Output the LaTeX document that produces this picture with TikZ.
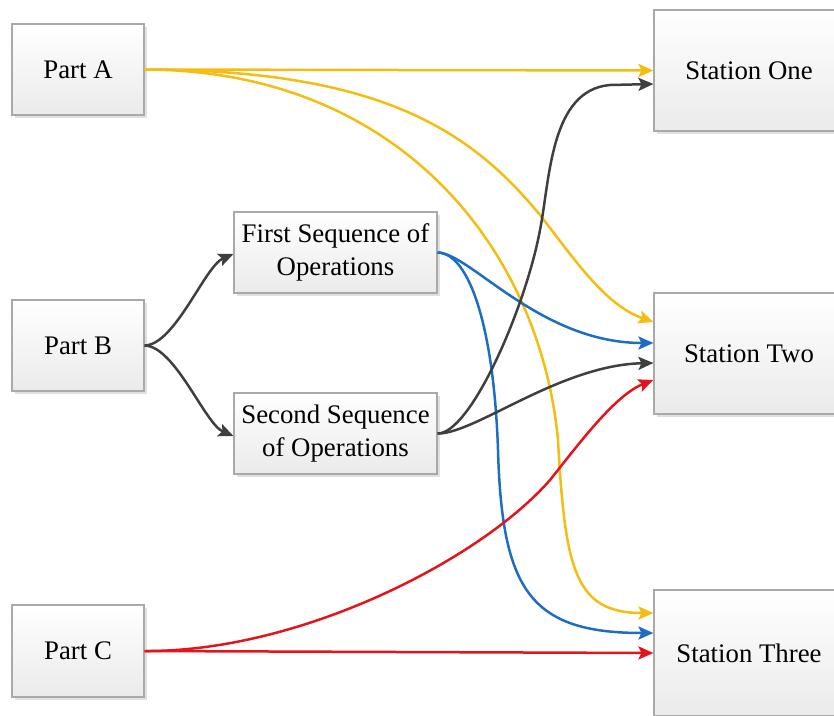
\documentclass[tikz,border=0pt]{standalone}
\usepackage{fontspec}
\setmainfont{Liberation Serif}
\usetikzlibrary{arrows.meta,shadows,calc}
\definecolor{linkgold}{HTML}{F5BC12}
\definecolor{linkblue}{HTML}{1B6EC2}
\definecolor{linkgray}{HTML}{3F3F3F}
\definecolor{linkred}{HTML}{E3141B}
\definecolor{boxedge}{HTML}{A9A9A9}
\begin{document}
\begin{tikzpicture}[x=1pt,y=-1pt,
  box/.style={draw=boxedge, line width=1.1pt, top color=white, bottom color=black!8,
    align=center, inner sep=0pt, font=\fontsize{26.8}{32.5}\selectfont,
    general shadow={fill=black!12, shadow xshift=3pt, shadow yshift=-3pt}},
  link/.style={line width=2.5pt, -{Stealth[length=15pt,width=13pt,inset=3pt]}}]
\useasboundingbox (0,0) rectangle (834,715);
\clip (0,0) rectangle (834,715);

% parts on the left
\node[box, minimum width=132pt, minimum height=91pt] (partA) at (78,69.5) {Part A};
\node[box, minimum width=132pt, minimum height=91pt] (partB) at (78,345.5) {Part B};
\node[box, minimum width=132pt, minimum height=92pt] (partC) at (78,651) {Part C};

% operation sequences in the middle
\node[box, minimum width=203pt, minimum height=81pt] (seqOne) at (335.5,252.5) {First Sequence of\\Operations};
\node[box, minimum width=203pt, minimum height=81pt] (seqTwo) at (335.5,433.5) {Second Sequence\\of Operations};

% stations on the right
\node[box, minimum width=190pt, minimum height=121pt] (stOne) at (749,70.5) {Station One};
\node[box, minimum width=190pt, minimum height=121pt] (stTwo) at (749,353.5) {Station Two};
\node[box, minimum width=190pt, minimum height=126pt] (stThree) at (749,653) {Station Three};

% Part A routes
\draw[link, linkgold] (partA.east) -- (stOne.west);
\draw[link, linkgold] (partA.east) .. controls (380,70) and (470,130) .. (540,215)
  .. controls (575,260) and (605,305) .. ($(stTwo.west)+(0,-31.5)$);
\draw[link, linkgold] (partA.east) .. controls (400,70) and (540,250) .. (558,440)
  .. controls (565,570) and (575,613) .. ($(stThree.west)+(0,-40)$);

% Part B splits into the two sequences
\draw[link, linkgray] (partB.east) .. controls (175,345) and (205,266) .. ($(seqOne.west)+(0,1.5)$);
\draw[link, linkgray] (partB.east) .. controls (175,346) and (205,424) .. ($(seqTwo.west)+(0,2.5)$);

% First sequence routes
\draw[link, linkblue] (seqOne.east) .. controls (470,253) and (540,343) .. ($(stTwo.west)+(0,-10.5)$);
\draw[link, linkblue] (seqOne.east) .. controls (470,253) and (494,330) .. (498,450)
  .. controls (502,590) and (530,633) .. ($(stThree.west)+(0,-20)$);

% Second sequence routes
\draw[link, linkgray] (seqTwo.east) .. controls (470,434) and (525,310) .. (540,230)
  .. controls (550,180) and (550,90) .. (610,85) -- ($(stOne.west)+(0,13.5)$);
\draw[link, linkgray] (seqTwo.east) .. controls (475,434) and (560,365) .. ($(stTwo.west)+(0,9.5)$);

% Part C routes
\draw[link, linkred] (partC.east) -- (stThree.west);
\draw[link, linkred] (partC.east) .. controls (300,652) and (480,560) .. (550,480)
  .. controls (578,445) and (615,395) .. ($(stTwo.west)+(0,26.5)$);
\end{tikzpicture}
\end{document}
